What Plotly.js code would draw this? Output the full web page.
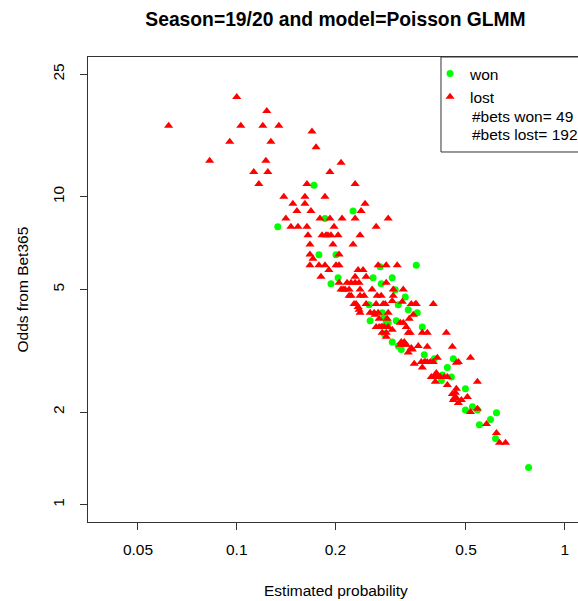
<!DOCTYPE html>
<html>
<head>
<meta charset="utf-8">
<script src="https://cdn.plot.ly/plotly-3.0.1.min.js"></script>
<style>
html,body{margin:0;padding:0;overflow:hidden;background:#fff;}
#chart{width:600px;height:601px;}
</style>
</head>
<body>
<div id="chart"></div>
<script>
// Lost bets: estimated probability and Bet365 odds
var lostProb = [0.062,0.0827,0.100,0.0952,0.1029,0.1201,0.1235,0.1344,0.1271,0.1227,
0.1127,0.1244,0.1168,0.1392,0.1483,0.1526,0.1412,0.1463,0.1537,0.1696,
0.1745,0.2080,0.1924,0.1637,0.2296,0.1614,0.1858,0.1614,0.2462,0.1684,
0.2394,0.1794,0.1924,0.2095,0.2296,0.2896,0.1637,0.1980,0.2661,0.1649,
0.1820,0.1871,0.1938,0.2037,0.2377,0.1672,0.1965,0.2263,0.1672,0.2051,
0.1708,0.1672,0.1781,0.1858,0.2008,0.2051,0.1910,0.2344,0.2428,0.2699,
0.2856,0.3086,0.1806,0.2296,0.2480,0.2051,0.2170,0.2296,0.2360,0.2856,
0.2080,0.2140,0.2201,0.2377,0.2587,0.3000,0.3219,0.2232,0.2377,0.2680,
0.2757,0.3000,0.2979,0.2279,0.2480,0.2661,0.2796,0.3197,0.3405,0.3502,
0.3975,0.2344,0.2360,0.2377,0.2551,0.2642,0.2699,0.2896,0.3453,0.2718,
0.2876,0.3357,0.3152,0.3219,0.2661,0.2718,0.2776,0.2816,0.2979,0.3288,
0.2776,0.2856,0.3334,0.3381,0.3679,0.3811,0.4356,0.2856,0.3174,0.3152,
0.3242,0.3288,0.3405,0.3429,0.3577,0.3811,0.4544,0.3334,0.3477,0.3653,
0.3731,0.3811,0.3892,0.3975,0.4089,0.4674,0.4740,0.5160,0.3679,0.4060,
0.3920,0.4031,0.4176,0.4387,0.4031,0.4387,0.5418,0.4674,0.4641,0.4544,
0.4609,0.4576,0.4842,0.4740,0.5050,0.5418,0.5160,0.5775,0.6194,0.6327,
0.6602,0.2232,0.2110,0.2312,0.2624,0.2757,0.2896,0.3757,0.4118,0.4295,
0.4674,0.3242,0.3527,0.2445,0.2836,0.2201,0.1897];
var lostOdds = [17.0,13.1,21.1,15.1,17.0,17.0,19.0,17.0,15.1,13.1,
12.05,12.05,11.0,10.0,9.5,9.0,8.5,8.0,8.0,16.3,
14.5,12.9,12.05,11.0,11.0,10.0,10.0,9.5,9.5,9.0,
9.0,8.5,8.5,8.5,8.5,8.5,8.0,8.0,8.0,7.5,
7.5,7.5,7.5,7.5,7.5,7.0,7.0,7.0,6.5,6.5,
6.29,6.0,6.0,6.0,6.0,6.0,5.79,5.79,5.79,6.0,
6.0,6.0,5.5,5.5,5.5,5.26,5.26,5.26,5.26,5.26,
5.0,5.0,5.0,5.0,5.0,5.0,5.0,4.77,4.77,4.77,
4.77,4.77,4.59,4.49,4.49,4.49,4.49,4.56,4.49,4.49,
4.49,4.39,4.30,4.20,4.20,4.14,4.20,4.20,4.14,4.02,
4.02,4.02,3.90,3.90,3.78,3.78,3.78,3.78,3.70,3.78,
3.62,3.62,3.62,3.62,3.62,3.62,3.62,3.51,3.38,3.31,
3.31,3.31,3.23,3.19,3.28,3.26,3.26,3.12,2.87,2.91,
2.91,2.91,2.91,2.91,3.0,2.89,2.91,3.0,2.79,2.68,
2.60,2.62,2.60,2.60,2.51,2.45,2.51,2.38,2.31,2.29,
2.22,2.19,2.19,2.14,2.24,2.05,2.00,1.83,1.71,1.59,
1.59,5.26,5.0,4.49,4.20,3.78,3.78,2.91,2.60,2.60,
2.22,3.38,4.49,4.77,4.49,4.77,7.5];

// Won bets
var wonProb = [0.1334,0.1720,0.2263,0.1858,0.1781,0.2008,0.2737,0.3527,0.2037,0.2605,
0.2979,0.1938,0.2757,0.3043,0.3265,0.2533,0.3108,0.3334,0.2776,0.2816,
0.3552,0.2551,0.3064,0.2856,0.2896,0.3679,0.2816,0.2979,0.3108,0.3174,
0.3731,0.4003,0.4576,0.4387,0.4235,0.4206,0.4512,0.4981,0.5232,0.5418,
0.4981,0.6194,0.5939,0.5495,0.6152,0.7760];
var wonOdds = [8.0,10.9,9.0,8.5,6.48,6.48,5.93,6.0,5.46,5.46,
5.46,5.22,5.22,4.99,4.73,4.46,4.46,4.30,4.20,4.08,
4.20,3.96,3.96,3.90,3.90,3.78,3.59,3.38,3.28,3.19,
3.07,2.98,2.98,2.79,2.64,2.53,2.60,2.38,2.08,2.03,
2.03,1.99,1.89,1.82,1.64,1.32];

var betsWon = 49, betsLost = 192;
var xTicks = [0.05, 0.1, 0.2, 0.5, 1];
var xTickText = ["0.05", "0.1", "0.2", "0.5", "1"];
var yTicks = [1, 2, 5, 10, 25];
var yTickText = ["1", "2", "5", "10", "25"];

var FONT = '"Liberation Sans", Arial, sans-serif';
var FS = 15.5;

var traces = [
  {x: wonProb, y: wonOdds, type: 'scatter', mode: 'markers', name: 'won',
   marker: {symbol: 'circle', color: '#00ff00', size: 7, line: {width: 0}}},
  {x: lostProb, y: lostOdds, type: 'scatter', mode: 'markers', name: 'lost',
   marker: {symbol: 'triangle-up', color: '#ff0000', size: 8, line: {width: 0}}}
];

var axisCommon = {
  type: 'log', showgrid: false, zeroline: false,
  showline: true, mirror: true, linecolor: '#333', linewidth: 1,
  ticks: 'outside', ticklen: 7, tickwidth: 1, tickcolor: '#333',
  tickfont: {family: FONT, size: FS, color: '#000'}
};

var layout = {
  width: 600, height: 601,
  margin: {l: 88, r: 17, t: 57, b: 79},
  paper_bgcolor: '#fff', plot_bgcolor: '#fff',
  font: {family: FONT, size: FS, color: '#000'},
  title: {text: '<b>Season=19/20 and model=Poisson GLMM</b>',
          font: {family: FONT, size: 19.3, color: '#000'},
          x: 0.5, xref: 'paper', y: 1 - 19/601, yref: 'container', yanchor: 'middle'},
  xaxis: Object.assign({}, axisCommon, {
    range: [Math.log10(0.0352), Math.log10(1.137)],
    tickvals: xTicks, ticktext: xTickText, ticklabelstandoff: 6
  }),
  yaxis: Object.assign({}, axisCommon, {
    range: [Math.log10(0.879), Math.log10(28.45)],
    tickvals: yTicks, ticktext: yTickText, tickangle: -90, ticklabelstandoff: 10
  }),
  showlegend: true,
  legend: {x: 0.691, xanchor: 'left', y: 1.0, yanchor: 'top',
           bgcolor: 'rgba(0,0,0,0)', borderwidth: 0,
           font: {family: FONT, size: FS, color: '#000'}, tracegroupgap: 0},
  shapes: [{type: 'rect', xref: 'paper', yref: 'paper',
            x0: 0.7131, x1: 1.2, y0: 0.7957, y1: 1,
            line: {color: '#333', width: 1}, fillcolor: 'rgba(0,0,0,0)'}],
  annotations: [
    {text: '#bets won= ' + betsWon, xref: 'paper', yref: 'paper', x: 0.7717, y: 0.8731,
     xanchor: 'left', yanchor: 'middle', showarrow: false,
     font: {family: FONT, size: FS, color: '#000'}},
    {text: '#bets lost= ' + betsLost, xref: 'paper', yref: 'paper', x: 0.7717, y: 0.8323,
     xanchor: 'left', yanchor: 'middle', showarrow: false,
     font: {family: FONT, size: FS, color: '#000'}},
    {text: 'Estimated probability', xref: 'paper', yref: 'paper', x: 0.5, y: 0,
     xanchor: 'center', yanchor: 'middle', yshift: -68, showarrow: false,
     font: {family: FONT, size: FS, color: '#000'}},
    {text: 'Odds from Bet365', xref: 'paper', yref: 'paper', x: 0, y: 0.5,
     xanchor: 'center', yanchor: 'middle', xshift: -66, textangle: -90, showarrow: false,
     font: {family: FONT, size: FS, color: '#000'}}
  ]
};

Plotly.newPlot('chart', traces, layout, {displayModeBar: false, staticPlot: true});
</script>
</body>
</html>
